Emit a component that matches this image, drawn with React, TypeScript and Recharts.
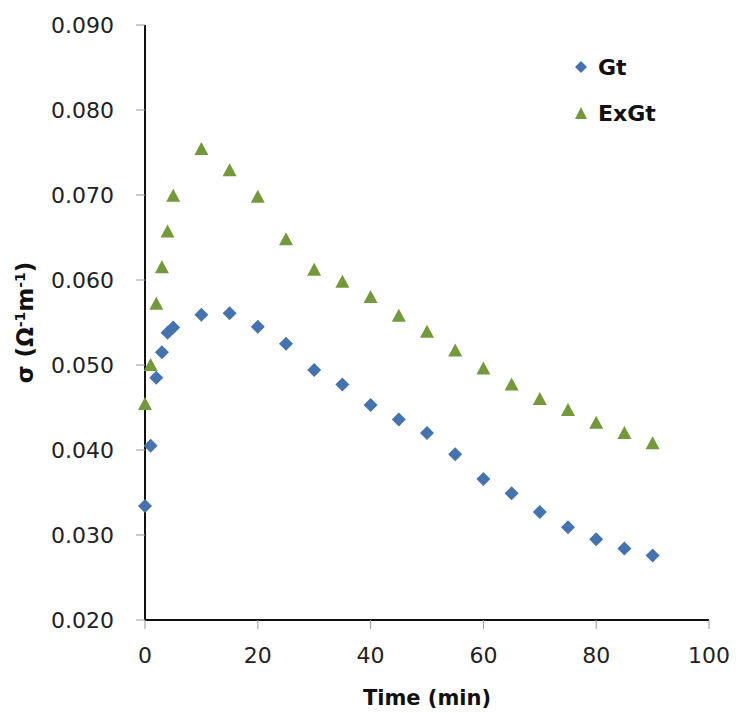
import React from "react";
import { ScatterChart, Scatter, XAxis, YAxis, Legend } from "recharts";

const times = [0, 1, 2, 3, 4, 5, 10, 15, 20, 25, 30, 35, 40, 45, 50, 55, 60, 65, 70, 75, 80, 85, 90];
const gtValues = [
  0.0334, 0.0405, 0.0485, 0.0515, 0.0538, 0.0544, 0.0559, 0.0561, 0.0545, 0.0525, 0.0494, 0.0477,
  0.0453, 0.0436, 0.042, 0.0395, 0.0366, 0.0349, 0.0327, 0.0309, 0.0295, 0.0284, 0.0276,
];
const exGtValues = [
  0.0454, 0.05, 0.0572, 0.0615, 0.0657, 0.0699, 0.0754, 0.0729, 0.0698, 0.0648, 0.0612, 0.0598,
  0.058, 0.0558, 0.0539, 0.0517, 0.0496, 0.0477, 0.046, 0.0447, 0.0432, 0.042, 0.0408,
];
const xTicks = [0, 20, 40, 60, 80, 100];
const yTicks = [0.02, 0.03, 0.04, 0.05, 0.06, 0.07, 0.08, 0.09];

const BLUE = "#4573b0";
const GREEN = "#74993a";
const FONT = "'DejaVu Sans', sans-serif";

const gtData = times.map((t, i) => ({ t, v: gtValues[i] }));
const exGtData = times.map((t, i) => ({ t, v: exGtValues[i] }));

const Diamond = (props: any) => {
  const { cx, cy } = props;
  const r = 7;
  return <polygon points={`${cx},${cy - r} ${cx + r},${cy} ${cx},${cy + r} ${cx - r},${cy}`} fill={BLUE} />;
};

const Triangle = (props: any) => {
  const { cx, cy } = props;
  return <polygon points={`${cx},${cy - 7} ${cx + 7},${cy + 6} ${cx - 7},${cy + 6}`} fill={GREEN} />;
};

const YLabel = (props: any) => {
  const { viewBox } = props;
  const cy = viewBox.y + viewBox.height / 2;
  const x = 33;
  return (
    <text
      x={x}
      y={cy}
      transform={`rotate(-90, ${x}, ${cy})`}
      textAnchor="middle"
      fontFamily={FONT}
      fontWeight="bold"
      fontSize={23}
      fill="#111"
    >
      σ (Ω
      <tspan baselineShift="super" fontSize={14}>-1</tspan>
      m
      <tspan baselineShift="super" fontSize={14}>-1</tspan>)
    </text>
  );
};

const renderLegend = (props: any) => {
  const { payload } = props;
  return (
    <div style={{ fontFamily: FONT, fontWeight: "bold", fontSize: 22, color: "#111" }}>
      {payload.map((entry: any) => (
        <div key={entry.value} style={{ display: "flex", alignItems: "center", height: 46 }}>
          <svg width={16} height={16} style={{ marginRight: 9 }}>
            {entry.value === "Gt" ? (
              <polygon points="8,2 14,8 8,14 2,8" fill={BLUE} />
            ) : (
              <polygon points="8,2 14,14 2,14" fill={GREEN} />
            )}
          </svg>
          <span>{entry.value}</span>
        </div>
      ))}
    </div>
  );
};

export default function App() {
  return (
    <div style={{ position: "absolute", left: 0, top: 0, background: "#fff" }}>
      <ScatterChart width={736} height={713} margin={{ top: 25, right: 27, bottom: 0, left: 0 }}>
        <XAxis
          dataKey="t"
          type="number"
          domain={[0, 100]}
          ticks={xTicks}
          height={93}
          tickSize={9}
          tickMargin={18}
          axisLine={{ stroke: "#111", strokeWidth: 2 }}
          tickLine={{ stroke: "#999" }}
          tick={{ fontFamily: FONT, fontSize: 22, fill: "#222" }}
          label={{
            value: "Time (min)",
            position: "insideBottom",
            offset: 8,
            style: { fontFamily: FONT, fontWeight: "bold", fontSize: 21, fill: "#111" },
          }}
        />
        <XAxis
          xAxisId="top"
          orientation="top"
          type="number"
          domain={[0, 100]}
          height={0}
          tick={false}
          tickLine={false}
          axisLine={{ stroke: "#111", strokeWidth: 2 }}
        />
        <YAxis
          dataKey="v"
          type="number"
          domain={[0.02, 0.09]}
          ticks={yTicks}
          width={145}
          tickSize={9}
          tickMargin={22}
          tickFormatter={(v: number) => v.toFixed(3)}
          axisLine={{ stroke: "#111", strokeWidth: 2 }}
          tickLine={{ stroke: "#999" }}
          tick={{ fontFamily: FONT, fontSize: 22, fill: "#222" }}
          label={<YLabel />}
        />
        <YAxis
          yAxisId="right"
          orientation="right"
          type="number"
          domain={[0.02, 0.09]}
          width={0}
          tick={false}
          tickLine={false}
          axisLine={{ stroke: "#111", strokeWidth: 2 }}
        />
        <Legend
          layout="horizontal"
          verticalAlign="middle"
          align="center"
          content={renderLegend}
          itemSorter={(item: any) => (item.value === "Gt" ? 0 : 1)}
          wrapperStyle={{ position: "absolute", left: 573, top: 44, width: 120 }}
        />
        <Scatter name="Gt" data={gtData} fill={BLUE} shape={<Diamond />} legendType="diamond" isAnimationActive={false} />
        <Scatter name="ExGt" data={exGtData} fill={GREEN} shape={<Triangle />} legendType="triangle" isAnimationActive={false} />
      </ScatterChart>
    </div>
  );
}
